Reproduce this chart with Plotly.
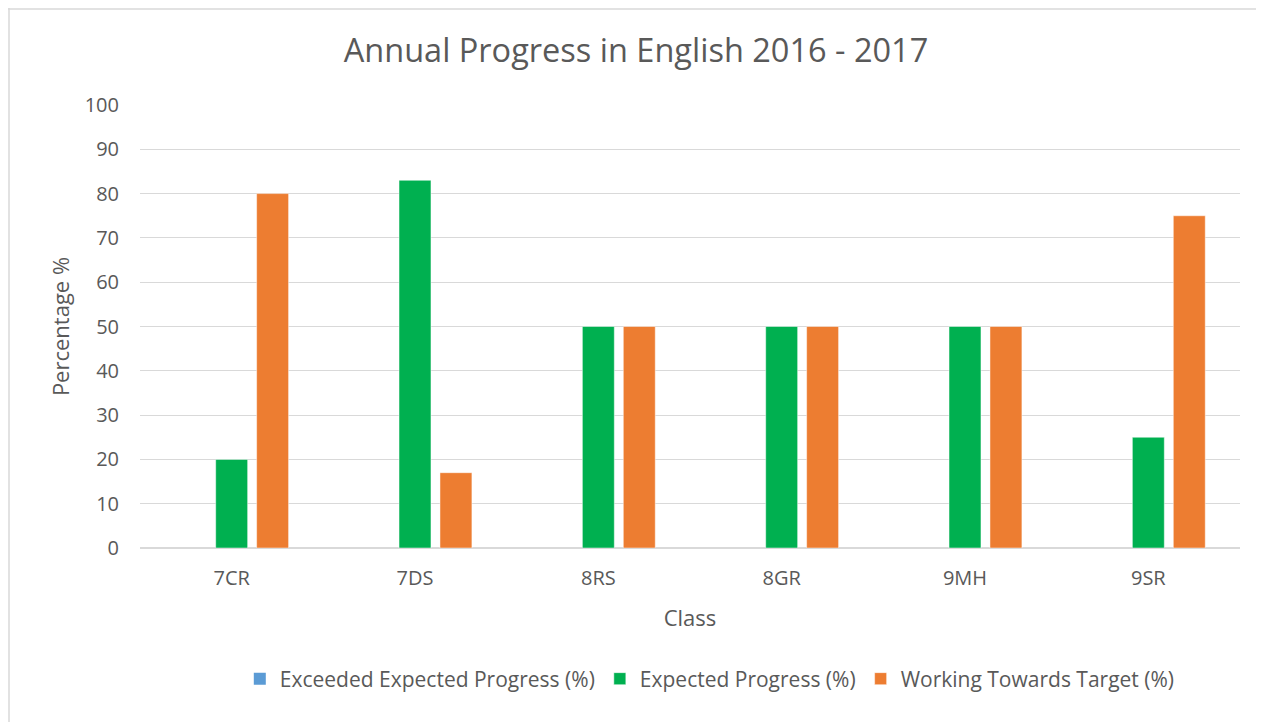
import plotly.graph_objects as go

classes = ["7CR", "7DS", "8RS", "8GR", "9MH", "9SR"]
exceeded = [0, 0, 0, 0, 0, 0]
expected = [20, 83, 50, 50, 50, 25]
working = [80, 17, 50, 50, 50, 75]

series_names = ["Exceeded Expected Progress (%)", "Expected Progress (%)", "Working Towards Target (%)"]
colors = ["#5b9bd5", "#00b050", "#ed7d31"]
y_ticks = [0, 10, 20, 30, 40, 50, 60, 70, 80, 90, 100]

FONT = "Open Sans"
TXT = "#595959"

# page body has an 8px margin; figure is sized to fit the window
W, H = 1256, 714
L, R, T, B = 132, 24, 97, 174

fig = go.Figure()
for name, vals, col in zip(series_names, [exceeded, expected, working], colors):
    fig.add_trace(go.Bar(
        x=classes, y=vals, name=name,
        marker=dict(color=col, line=dict(color="rgba(255,255,255,0.6)", width=0.8 if any(vals) else 0)),
    ))

fig.update_layout(
    width=W, height=H,
    paper_bgcolor="white", plot_bgcolor="white",
    margin=dict(l=L, r=R, t=T, b=B),
    barmode="group", bargap=0.33, bargroupgap=0.22,
    font=dict(family=FONT, color=TXT, size=20),
    title=dict(text="Annual Progress in English 2016 - 2017", x=0.5, xanchor="center",
               y=1 - 43 / H, yanchor="middle", yref="container",
               font=dict(size=32.5, color=TXT, family=FONT)),
    xaxis=dict(
        title=dict(text="Class", font=dict(size=22, color=TXT), standoff=20),
        showgrid=False, showline=False, zeroline=False, ticks="",
        tickfont=dict(size=20, color=TXT), ticklabelstandoff=16,
    ),
    yaxis=dict(
        title=dict(text="Percentage %", font=dict(size=22, color=TXT), standoff=8),
        range=[0, 100], tickvals=y_ticks, showgrid=True, gridcolor="#d9d9d9", gridwidth=1.2,
        zeroline=True, zerolinecolor="#d9d9d9", zerolinewidth=1.5, showline=False,
        ticks="", ticklabelstandoff=20, tickfont=dict(size=20, color=TXT),
    ),
    legend=dict(orientation="h", x=0.518, xanchor="center", y=(540 - 671) / (H - T - B), yanchor="middle",
                font=dict(size=21, color=TXT), itemwidth=30, traceorder="normal"),
    showlegend=True,
)

pw, ph = W - L - R, H - T - B
fig.add_shape(type="line", xref="paper", yref="paper",
              x0=-L / pw, x1=(W - L) / pw, y0=(ph + T - 1) / ph, y1=(ph + T - 1) / ph,
              line=dict(color="#d9d9d9", width=1.5))
fig.add_shape(type="line", xref="paper", yref="paper",
              x0=(-L + 1) / pw, x1=(-L + 1) / pw, y0=-B / ph, y1=(ph + T) / ph,
              line=dict(color="#d9d9d9", width=1.5))

fig.write_html("out.html")
